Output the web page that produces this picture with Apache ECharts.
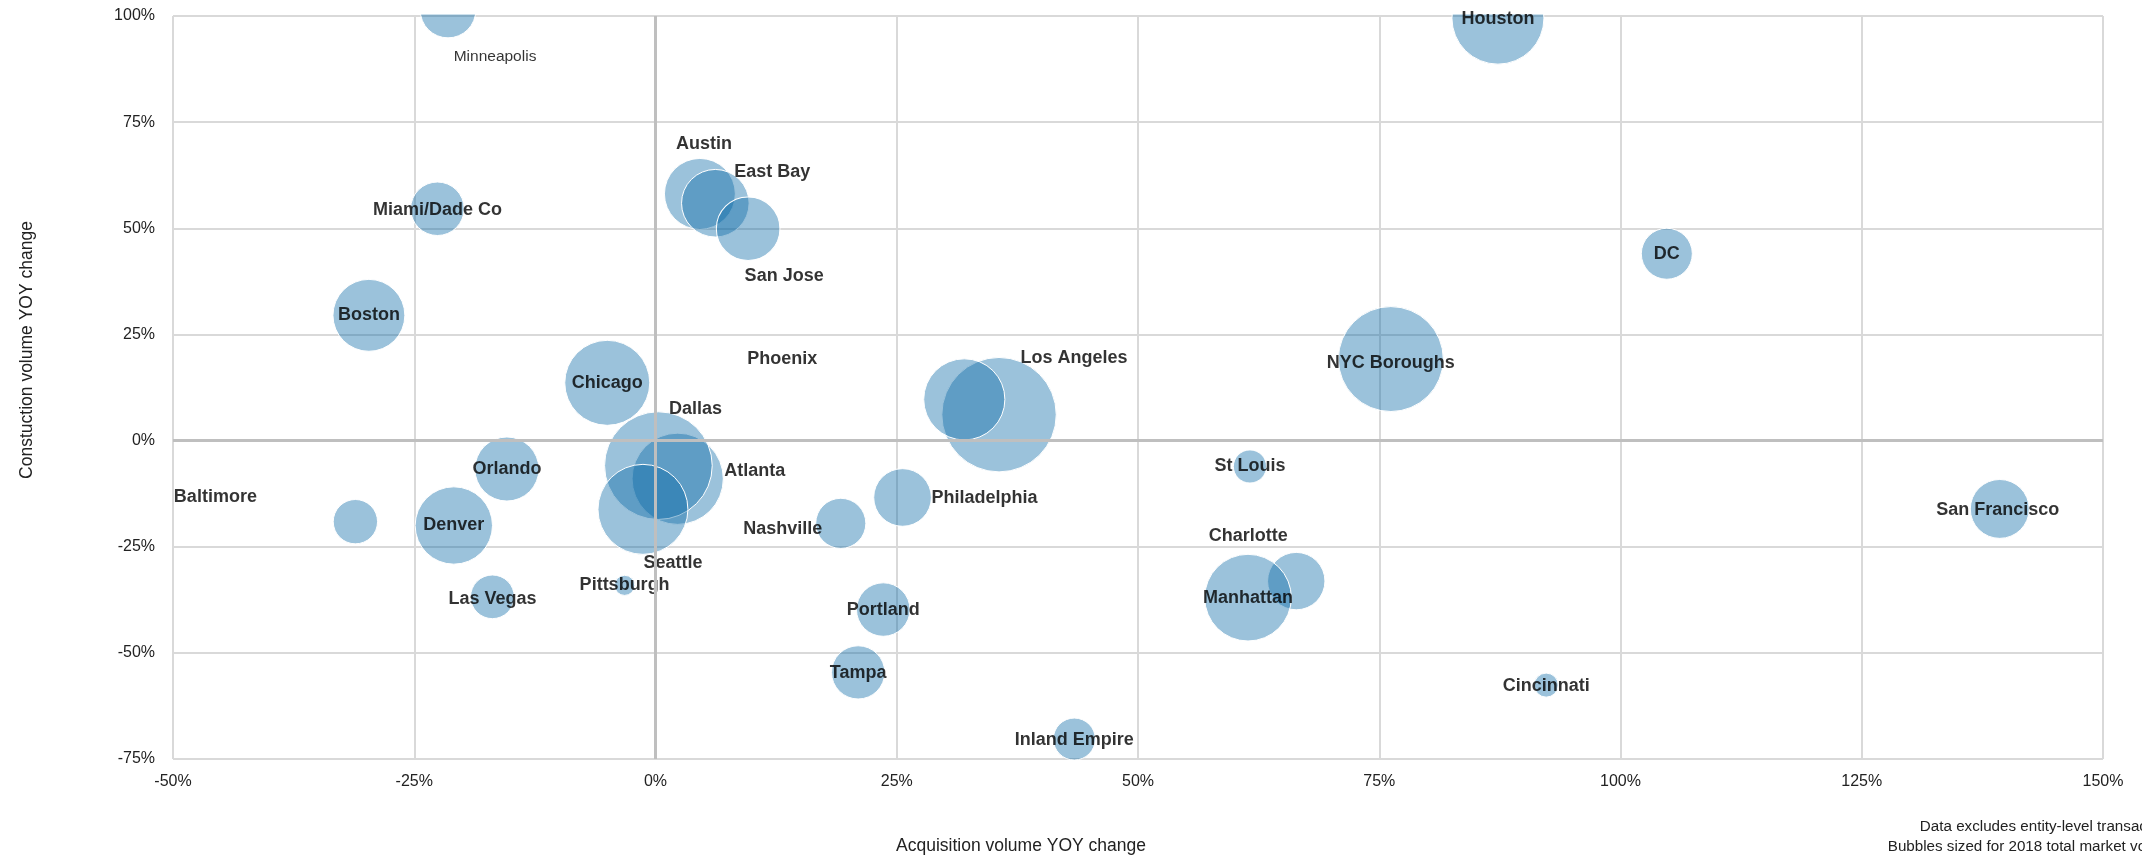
<!DOCTYPE html>
<html><head><meta charset="utf-8">
<script src="https://cdn.jsdelivr.net/npm/echarts@6/dist/echarts.min.js"></script>
<style>html,body{margin:0;padding:0;background:#fff}#c{width:2142px;height:859px}</style>
</head><body><div id="c"></div>
<script>
// ---- data (draw order matters for overlaps) ----
const cities = ["Austin","East Bay","San Jose","Atlanta","Dallas","Seattle","Los Angeles","Phoenix",
  "Charlotte","Manhattan","Minneapolis","Houston","DC","NYC Boroughs","Chicago","Pittsburgh","Nashville",
  "Philadelphia","St Louis","Boston","Baltimore","Orlando","Denver","Las Vegas","Miami/Dade Co",
  "Portland","Tampa","Inland Empire","Cincinnati","San Francisco"];
const acquisitionChange = [4.6, 6.2, 9.6, 2.3, 0.3, -1.3, 35.6, 32.0,
  66.4, 61.4, -21.5, 87.3, 104.8, 76.2, -5.0, -3.2, 19.2,
  25.6, 61.6, -29.7, -31.1, -15.4, -20.9, -16.9, -22.6,
  23.6, 21.0, 43.4, 92.3, 139.3];
const constructionChange = [58.1, 55.9, 49.9, -9.0, -5.9, -16.2, 6.1, 9.7,
  -33.1, -37.0, 101.4, 99.5, 44.0, 19.2, 13.6, -34.1, -19.5,
  -13.4, -6.1, 29.5, -19.1, -6.7, -20.0, -36.8, 54.6,
  -39.8, -54.6, -70.3, -57.6, -16.1];
const marketVolume = [17.4, 15.8, 14.0, 28.8, 40.1, 28.0, 45.3, 22.8,
  11.4, 26.0, 10.7, 29.3, 9.0, 38.1, 25.0, 1.4, 8.7,
  11.5, 3.8, 17.9, 6.8, 14.2, 20.7, 6.6, 9.9,
  9.9, 9.8, 6.1, 2.0, 12.0];
const xTicks = [-50, -25, 0, 25, 50, 75, 100, 125, 150];
const yTicks = [-75, -50, -25, 0, 25, 50, 75, 100];

// ---- label placement (style, pixels) ----
const labelOffsets = {
  "Minneapolis": [47, 47], "Houston": [0, 1], "NYC Boroughs": [0, 4],
  "Austin": [4, -50], "East Bay": [57, -31], "San Jose": [36, 47],
  "Dallas": [37, -57], "Atlanta": [77, -8], "Seattle": [30, 54],
  "Nashville": [-58, 6], "Phoenix": [-182, -40], "Los Angeles": [75, -57],
  "Philadelphia": [82, 1], "Charlotte": [-48, -45], "Baltimore": [-140, -25],
  "Las Vegas": [0, 2], "Miami/Dade Co": [0, 1], "Tampa": [0, 1],
  "Inland Empire": [0, 1], "Cincinnati": [0, 1], "San Francisco": [-2, 1]
};
const regularLabels = ["Minneapolis"];

const FONT = "'Liberation Sans',Arial,sans-serif";

const points = cities.map((c, i) => [acquisitionChange[i], constructionChange[i], marketVolume[i], c]);

const chart = echarts.init(document.getElementById('c'));
const axisCommon = {
  type: 'value',
  axisLine: { show: false },
  axisTick: { show: false },
  splitLine: { show: true, lineStyle: { color: '#d9d9d9', width: 2 } },
  axisLabel: { formatter: '{value}%', fontFamily: FONT, fontSize: 16, color: '#222' }
};
chart.setOption({
  animation: false,
  backgroundColor: '#fff',
  grid: { left: 173, right: 39, top: 16, bottom: 100 },
  xAxis: Object.assign({}, axisCommon, {
    min: xTicks[0], max: xTicks[xTicks.length - 1], interval: xTicks[1] - xTicks[0],
    axisLabel: Object.assign({}, axisCommon.axisLabel, { margin: 15 })
  }),
  yAxis: Object.assign({}, axisCommon, {
    min: yTicks[0], max: yTicks[yTicks.length - 1], interval: yTicks[1] - yTicks[0],
    axisLabel: Object.assign({}, axisCommon.axisLabel, { margin: 18 })
  }),
  series: [
    {
      type: 'scatter', data: [], z: 1, silent: true,
      markLine: {
        silent: true, symbol: ['none', 'none'], label: { show: false },
        lineStyle: { color: '#bfbfbf', width: 3, type: 'solid' },
        data: [{ xAxis: 0 }, { yAxis: 0 }]
      }
    },
    {
      type: 'scatter', z: 2, clip: false, silent: true,
      data: points,
      symbolSize: d => Math.sqrt(d[2]) * 17,
      itemStyle: { color: 'rgba(5,103,165,0.4)', borderColor: '#ffffff', borderWidth: 1, opacity: 1 },
      emphasis: { disabled: true }
    },
    {
      type: 'scatter', z: 4, clip: false, silent: true,
      symbolSize: 1,
      itemStyle: { color: 'rgba(0,0,0,0)' },
      label: { show: true, position: 'inside', formatter: '{b}', color: '#000',
        fontFamily: FONT, fontSize: 18, fontWeight: 'bold' },
      data: points.map(p => {
        const name = p[3];
        const isReg = regularLabels.includes(name);
        return {
          name: name, value: p,
          label: {
            offset: labelOffsets[name] || [0, 0],
            fontWeight: isReg ? 'normal' : 'bold',
            fontSize: isReg ? 15.5 : 18
          }
        };
      }),
      emphasis: { disabled: true }
    }
  ],
  graphic: [
    { type: 'rect', z: 3, silent: true, shape: { x: 174, y: 0, width: 1968, height: 14.5 }, style: { fill: '#fff' } },
    { type: 'text', z: 10, silent: true, x: 27, y: 350, rotation: Math.PI / 2,
      style: { text: 'Constuction volume YOY change', font: '17.5px ' + FONT, fill: '#222', align: 'center', verticalAlign: 'middle' } },
    { type: 'text', z: 10, silent: true, x: 1021, y: 846,
      style: { text: 'Acquisition volume YOY change', font: '17.5px ' + FONT, fill: '#222', align: 'center', verticalAlign: 'middle' } },
    { type: 'text', z: 10, silent: true, x: 2179, y: 827,
      style: { text: 'Data excludes entity-level transactions', font: '15.2px ' + FONT, fill: '#222', align: 'right', verticalAlign: 'middle' } },
    { type: 'text', z: 10, silent: true, x: 2179, y: 847,
      style: { text: 'Bubbles sized for 2018 total market volume', font: '15.2px ' + FONT, fill: '#222', align: 'right', verticalAlign: 'middle' } }
  ]
});
</script></body></html>
